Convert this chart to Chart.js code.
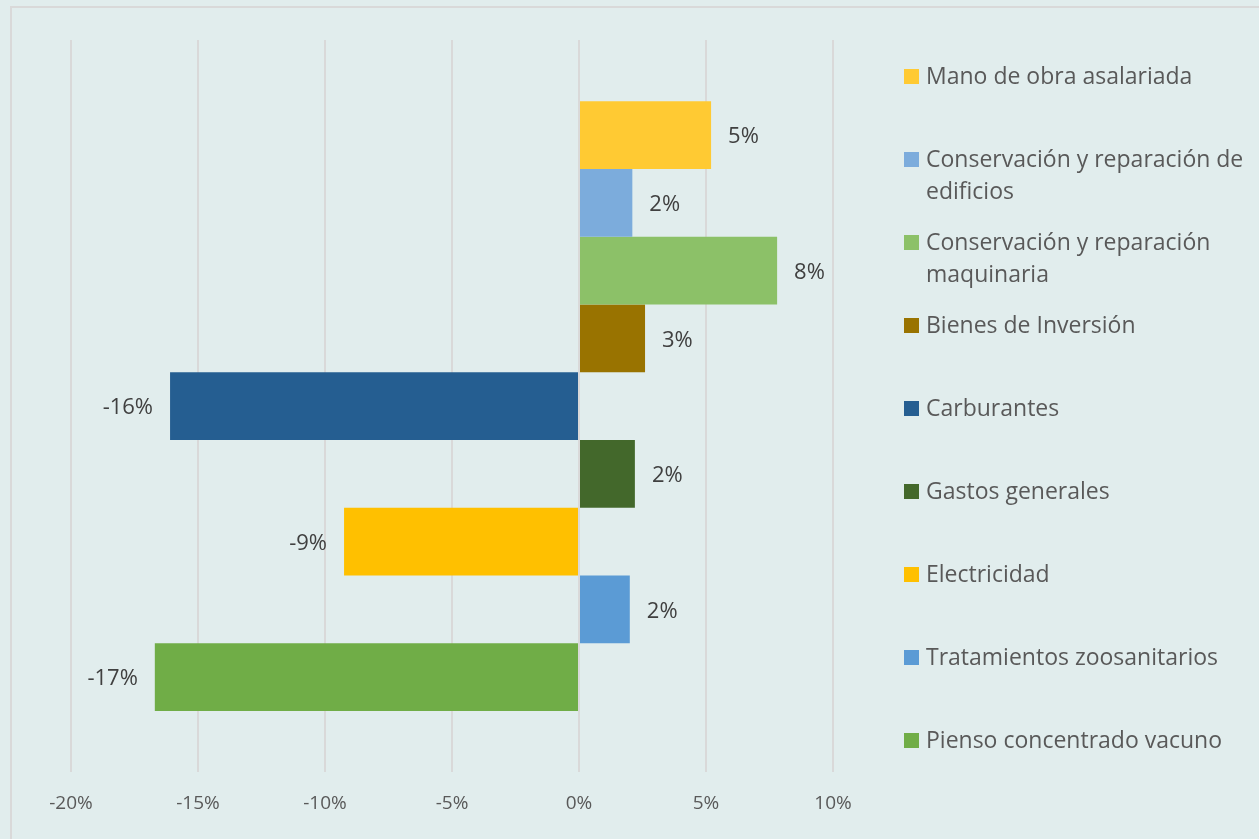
<!DOCTYPE html>
<html>
<head>
<meta charset="utf-8">
<script src="https://cdn.jsdelivr.net/npm/chart.js@4"></script>
<style>
  html, body { margin: 0; padding: 0; background: #e1eded; overflow: hidden; }
  canvas { display: block; }
</style>
</head>
<body>
<canvas id="chart" width="1259" height="839"></canvas>
<script>
// series (one bar each), top to bottom
const categories = [
  "Mano de obra asalariada",
  "Conservación y reparación de\nedificios",
  "Conservación y reparación\nmaquinaria",
  "Bienes de Inversión",
  "Carburantes",
  "Gastos generales",
  "Electricidad",
  "Tratamientos zoosanitarios",
  "Pienso concentrado vacuno"
];
const values = [5.2, 2.1, 7.8, 2.6, -16.1, 2.2, -9.25, 2.0, -16.7];
const barColors = ["#ffca33", "#7cacdc", "#8cc168", "#997300", "#255e91", "#43682b", "#ffc000", "#5b9bd5", "#70ad47"];
const xMin = -20, xMax = 10, xStep = 5;

const textColor = "#595959";
const fontFamily = "'Open Sans', Lato, sans-serif";

// light grey frame like the exported chart
const frame = {
  id: "frame",
  beforeDraw(chart) {
    const ctx = chart.ctx;
    ctx.save();
    ctx.strokeStyle = "#d9d9d9";
    ctx.lineWidth = 2;
    ctx.strokeRect(11, 7, 1400, 1000);
    ctx.restore();
  }
};

// value labels at the bar ends
const barLabels = {
  id: "barLabels",
  afterDatasetsDraw(chart) {
    const ctx = chart.ctx;
    ctx.save();
    ctx.font = "22px " + fontFamily;
    ctx.fillStyle = "#404040";
    ctx.textBaseline = "middle";
    chart.data.datasets.forEach((ds, i) => {
      const bar = chart.getDatasetMeta(i).data[0];
      const v = ds.data[0];
      const txt = Math.round(v) + "%";
      if (v >= 0) {
        ctx.textAlign = "left";
        ctx.fillText(txt, bar.x + 17, bar.y + 2);
      } else {
        ctx.textAlign = "right";
        ctx.fillText(txt, bar.x - 17, bar.y + 2);
      }
    });
    ctx.restore();
  }
};

// legend column on the right, evenly spaced
const sideLegend = {
  id: "sideLegend",
  afterDraw(chart) {
    const ctx = chart.ctx;
    ctx.save();
    ctx.font = "23px " + fontFamily;
    ctx.textBaseline = "middle";
    ctx.textAlign = "left";
    chart.data.datasets.forEach((ds, i) => {
      const y = 77 + i * 83;
      ctx.fillStyle = ds.backgroundColor;
      ctx.fillRect(904, y - 8, 15, 15);
      ctx.fillStyle = textColor;
      ds.label.split("\n").forEach((line, j) => {
        ctx.fillText(line, 926, y + j * 32);
      });
    });
    ctx.restore();
  }
};

const ctx = document.getElementById("chart");

new Chart(ctx, {
  type: "bar",
  data: {
    labels: [""],
    datasets: categories.map((name, i) => ({
      label: name,
      data: [values[i]],
      backgroundColor: barColors[i],
      borderWidth: 0,
      categoryPercentage: 0.833,
      barPercentage: 1.0
    }))
  },
  options: {
    indexAxis: "y",
    responsive: false,
    animation: false,
    layout: {
      padding: { left: 71, right: 426, top: 40, bottom: 4 }
    },
    plugins: {
      legend: { display: false },
      tooltip: { enabled: false }
    },
    scales: {
      x: {
        min: xMin,
        max: xMax,
        ticks: {
          stepSize: xStep,
          padding: 20,
          color: textColor,
          font: { family: fontFamily, size: 19 },
          callback: (v) => v + "%"
        },
        grid: {
          color: "#d9d9d9",
          lineWidth: 2,
          drawTicks: false
        },
        border: { display: false }
      },
      y: {
        display: false
      }
    }
  },
  plugins: [frame, barLabels, sideLegend]
});
</script>
</body>
</html>
